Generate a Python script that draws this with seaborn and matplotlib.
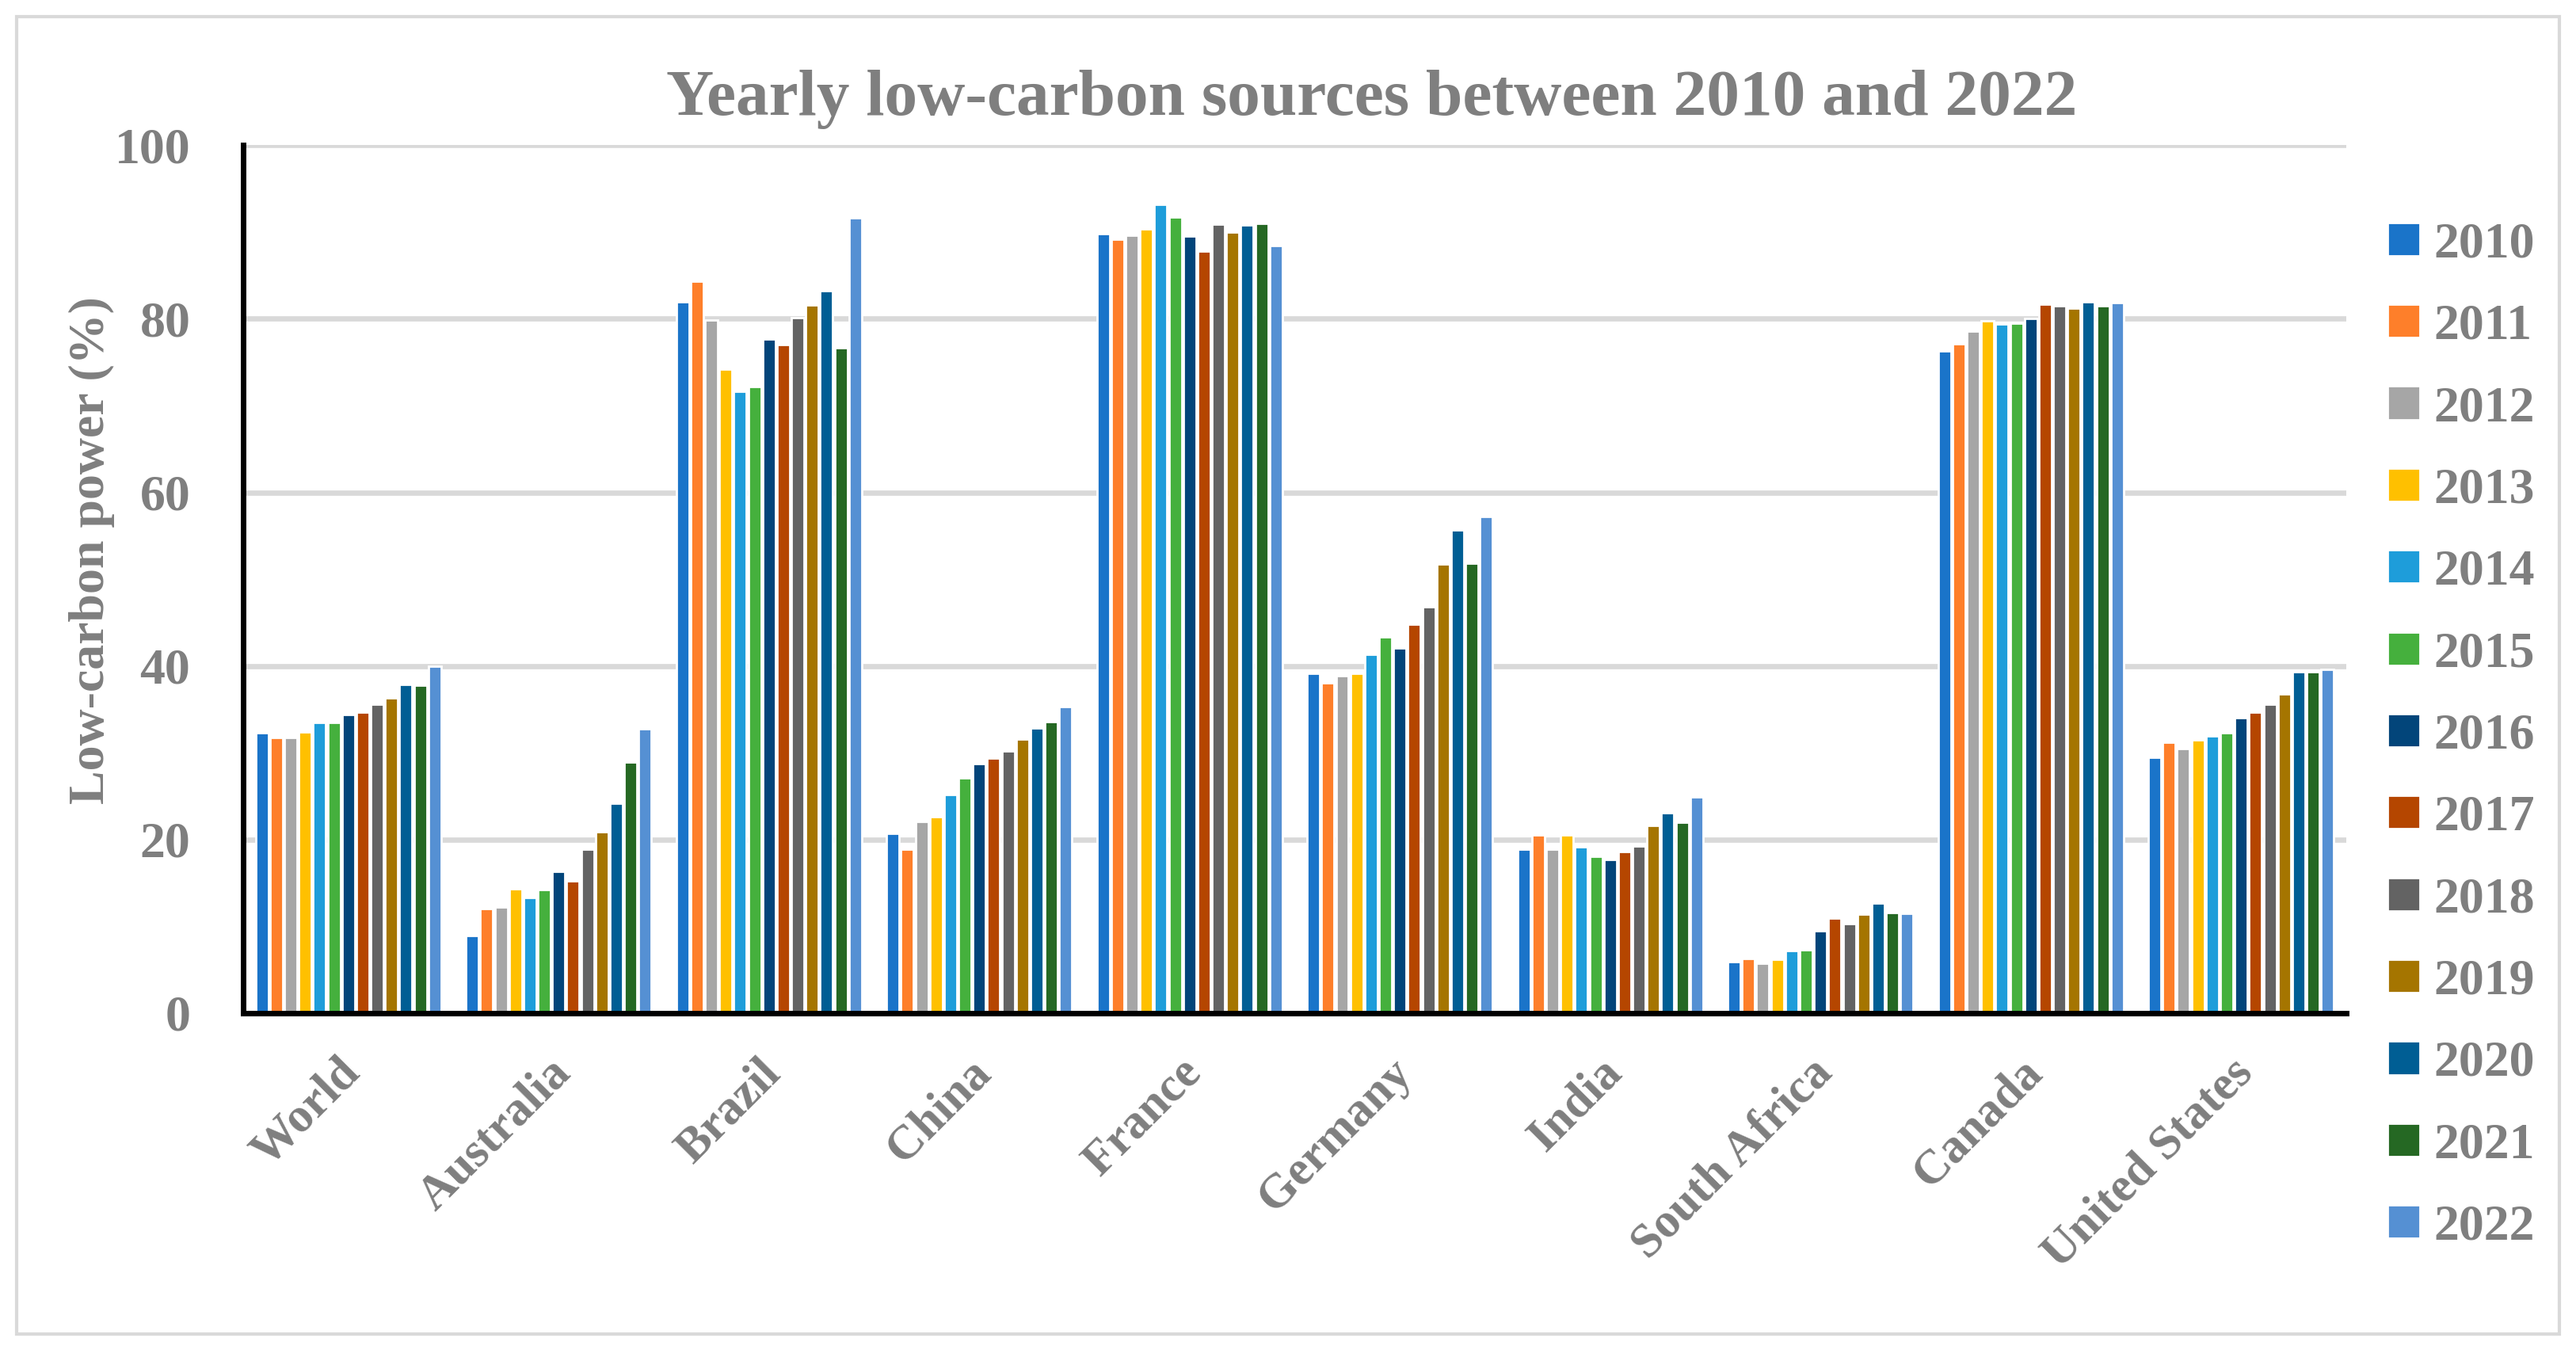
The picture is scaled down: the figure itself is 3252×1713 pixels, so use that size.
import numpy as np
import pandas as pd
import matplotlib
matplotlib.use("Agg")
import matplotlib.pyplot as plt
import matplotlib.transforms as mtransforms
import seaborn as sns
from matplotlib.patches import Rectangle

# ============================
# data
# ============================
countries = ["World", "Australia", "Brazil", "China", "France",
             "Germany", "India", "South Africa", "Canada", "United States"]
years = [str(y) for y in range(2010, 2023)]

world = [32.3, 31.7, 31.7, 32.4, 33.5, 33.5, 34.4, 34.7, 35.6, 36.3, 37.9, 37.8, 40.0]
australia = [8.9, 12.0, 12.2, 14.3, 13.3, 14.2, 16.3, 15.2, 18.9, 20.9, 24.2, 28.9, 32.7]
brazil = [82.0, 84.3, 79.9, 74.2, 71.6, 72.2, 77.7, 77.0, 80.1, 81.6, 83.2, 76.7, 91.6]
china = [20.7, 18.9, 22.1, 22.6, 25.2, 27.1, 28.7, 29.4, 30.2, 31.6, 32.8, 33.6, 35.3]
france = [89.8, 89.2, 89.6, 90.4, 93.2, 91.7, 89.5, 87.8, 90.9, 90.0, 90.8, 91.0, 88.4]
germany = [39.1, 38.0, 38.9, 39.1, 41.3, 43.3, 42.1, 44.8, 46.8, 51.7, 55.7, 51.8, 57.2]
india = [18.9, 20.5, 18.9, 20.5, 19.1, 18.0, 17.7, 18.6, 19.2, 21.6, 23.1, 22.0, 24.9]
south_africa = [5.9, 6.3, 5.7, 6.2, 7.2, 7.3, 9.5, 10.9, 10.3, 11.4, 12.7, 11.6, 11.5]
canada = [76.3, 77.1, 78.6, 79.8, 79.4, 79.5, 80.0, 81.7, 81.5, 81.2, 82.0, 81.5, 81.9]
united_states = [29.5, 31.2, 30.5, 31.5, 31.9, 32.3, 34.0, 34.7, 35.6, 36.8, 39.3, 39.3, 39.6]

series = [world, australia, brazil, china, france,
          germany, india, south_africa, canada, united_states]

colors = ["#1a74c9", "#fe7f2a", "#a6a6a6", "#ffc000", "#1e9dda", "#45b03d",
          "#02457a", "#b54600", "#636363", "#a57500", "#005e94", "#256823", "#5590d3"]

df = pd.DataFrame({
    "country": np.repeat(countries, len(years)),
    "year": np.tile(years, len(countries)),
    "value": np.concatenate(series),
})

# ============================
# style
# ============================
grey = "#7f7f7f"
font = ["Liberation Serif", "DejaVu Serif"]
sns.set_style("white")
plt.rcParams["font.family"] = font
plt.rcParams["font.weight"] = "bold"

fig = plt.figure(figsize=(16.26, 8.565), dpi=200)
ax = fig.add_axes([0.0944, 0.2536, 0.8164, 0.6393])

sns.barplot(
    data=df,
    x="country",
    y="value",
    hue="year",
    palette=colors,
    saturation=1,
    width=0.89,
    gap=0.12,
    ax=ax,
)

# ============================
# axes
# ============================
ax.set_ylim(0, 100)
ax.set_yticks(range(0, 101, 20))
ax.set_xlim(-0.5, len(countries) - 0.5)
ax.grid(axis="y", color="#d9d9d9", linewidth=2.4)
ax.set_axisbelow(True)

for side in ["top", "right"]:
    ax.spines[side].set_visible(False)
for side in ["left", "bottom"]:
    ax.spines[side].set_color("black")
    ax.spines[side].set_linewidth(2.5)

ax.tick_params(axis="y", direction="in", length=7, width=2.5, color="black",
               labelsize=23, labelcolor=grey, pad=24)
ax.set_xticks(np.arange(-0.5, len(countries), 1.0), minor=True)
ax.tick_params(axis="x", which="major", length=0, pad=17)
ax.tick_params(axis="x", which="minor", direction="out", length=7, width=2.5, color="black")

ax.set_xticklabels(countries, rotation=45, ha="right", rotation_mode="anchor",
                   fontsize=22, color=grey, fontweight="bold")
shift = mtransforms.ScaledTranslation(-5 / 72, 0, fig.dpi_scale_trans)
for lab in ax.get_xticklabels():
    lab.set_transform(lab.get_transform() + shift)
for lab in ax.get_yticklabels():
    lab.set_fontweight("bold")

ax.set_xlabel("")
ax.set_ylabel("Low-carbon power (%)", fontsize=23, color=grey, fontweight="bold")
ax.yaxis.set_label_coords(-0.061, 0.533)

fig.text(0.5326, 0.927, "Yearly low-carbon sources between 2010 and 2022",
         ha="center", va="center", fontsize=30, color=grey, fontweight="bold")

# ============================
# legend
# ============================
handles, labels = ax.get_legend_handles_labels()
ax.get_legend().remove()
leg = fig.legend(
    handles, labels,
    loc="center left",
    bbox_to_anchor=(0.9268, 0.4574),
    frameon=False,
    fontsize=23,
    handlelength=0.64,
    handleheight=0.64,
    handletextpad=0.28,
    labelspacing=0.71,
    borderpad=0,
    borderaxespad=0,
)
for t in leg.get_texts():
    t.set_color(grey)
    t.set_fontweight("bold")

# outer frame
fig.add_artist(Rectangle((0.0065, 0.017), 0.987, 0.9707, transform=fig.transFigure,
                         fill=False, edgecolor="#d9d9d9", linewidth=1.5))

fig.savefig("out.png", dpi=200)
